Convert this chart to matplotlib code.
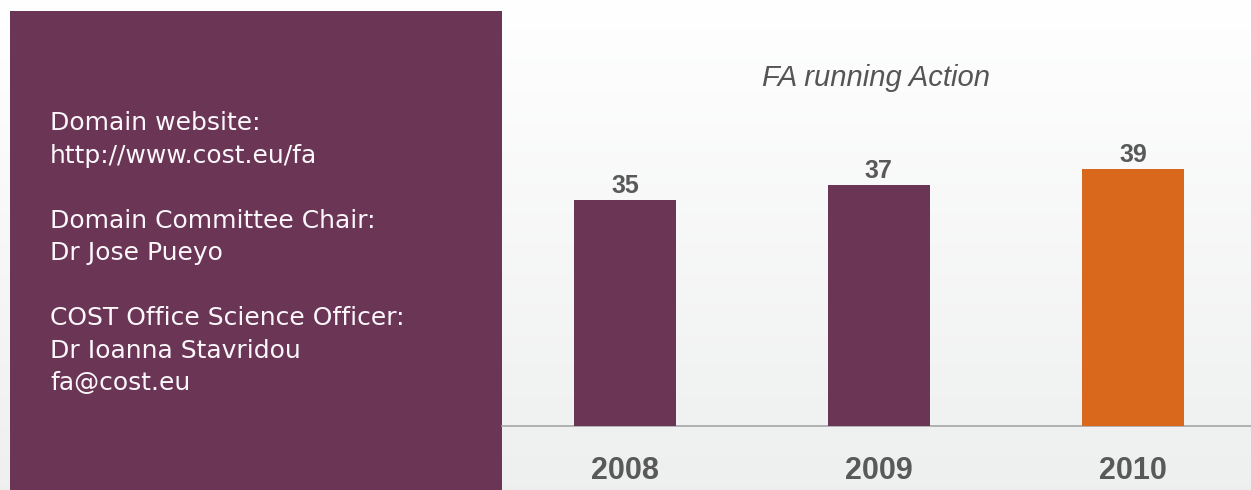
import matplotlib.pyplot as plt
import numpy as np
from matplotlib.patches import Rectangle

W, H = 1251, 490

years = ["2008", "2009", "2010"]
actions = [35, 37, 39]
bar_colors = ["#6b3556", "#6b3556", "#d9681c"]
title = "FA running Action"

contact_lines = [
    "Domain website:",
    "http://www.cost.eu/fa",
    "",
    "Domain Committee Chair:",
    "Dr Jose Pueyo",
    "",
    "COST Office Science Officer:",
    "Dr Ioanna Stavridou",
    "fa@cost.eu",
]

PURPLE = "#6b3556"
GREY_TEXT = "#595959"

fig = plt.figure(figsize=(W / 100, H / 100), dpi=100)

# soft vertical gradient behind everything
bg = fig.add_axes([0, 0, 1, 1], zorder=0)
grad = np.linspace(1.0, 0.0, 256).reshape(-1, 1)
top = np.array([1.0, 1.0, 1.0])
bottom = np.array([0.933, 0.937, 0.937])
img = bottom + (top - bottom) * grad[..., None]
bg.imshow(img, aspect="auto", extent=[0, 1, 0, 1], origin="upper")
bg.set_xlim(0, 1)
bg.set_ylim(0, 1)
bg.axis("off")

# purple info panel on the left
fig.patches.append(Rectangle((10 / W, 0), (502 - 10) / W, (H - 11) / H,
                             transform=fig.transFigure, facecolor=PURPLE,
                             edgecolor="none", zorder=1))

line_step = 32.5
for i, line in enumerate(contact_lines):
    if not line:
        continue
    y_px = 130 + i * line_step
    fig.text(50 / W, 1 - y_px / H, line, color="#fbf7fa", fontsize=18,
             family="DejaVu Sans", va="baseline", ha="left", zorder=2)

# bar chart on the right
ax = fig.add_axes([502 / W, (H - 426) / H, (W - 502) / W, (426 - 11) / H], zorder=2)
ax.patch.set_alpha(0)
x = np.arange(len(years))
bars = ax.bar(x, actions, width=0.4, color=bar_colors, zorder=3)
ax.set_xlim(-0.484, 2.465)
ax.set_ylim(5.9, 59.4)

for rect, val in zip(bars, actions):
    ax.annotate(str(val), (rect.get_x() + rect.get_width() / 2, rect.get_height()),
                xytext=(0, 5), textcoords="offset points", ha="center", va="baseline",
                fontsize=18, fontweight="bold", color=GREY_TEXT, family="Liberation Sans")

for xi, year in zip(x, years):
    ax.annotate(year, (xi, 0), xycoords=("data", "axes fraction"),
                xytext=(0, -38), textcoords="offset points", ha="center", va="baseline",
                fontsize=22, fontweight="bold", color=GREY_TEXT, family="Liberation Sans",
                annotation_clip=False)

ax.text(0.5, 1 - (86 - 11) / (426 - 11), title, transform=ax.transAxes, ha="center",
        va="baseline", fontsize=21.1, style="italic", color="#555555", family="Liberation Sans")

for side in ["left", "right", "top"]:
    ax.spines[side].set_visible(False)
ax.spines["bottom"].set_color("#a6a6a6")
ax.spines["bottom"].set_linewidth(1.2)
ax.set_xticks([])
ax.set_yticks([])

fig.savefig("out.png", dpi=100)
